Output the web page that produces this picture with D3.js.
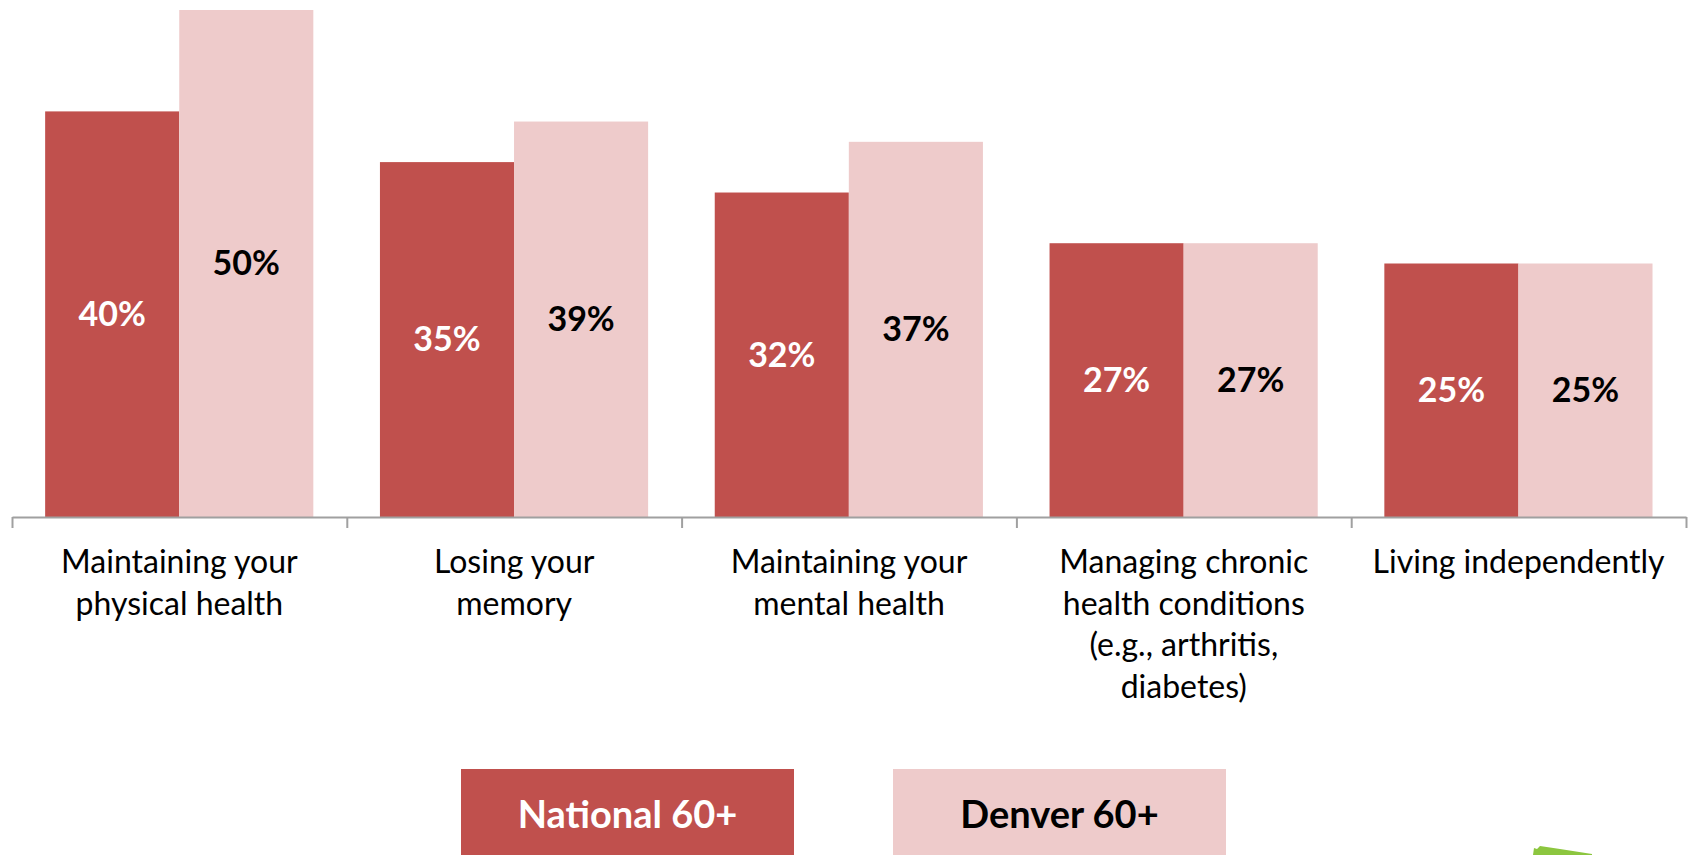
<!DOCTYPE html>
<html>
<head>
<meta charset="utf-8">
<script src="https://cdnjs.cloudflare.com/ajax/libs/d3/7.8.5/d3.min.js"></script>
<style>
  html, body { margin: 0; padding: 0; background: #fff; }
  svg { display: block; }
</style>
</head>
<body>
<div id="chart"></div>
<script>
// data
var categories = [
    "Maintaining your\nphysical health",
    "Losing your\nmemory",
    "Maintaining your\nmental health",
    "Managing chronic\nhealth conditions\n(e.g., arthritis,\ndiabetes)",
    "Living independently"
];
var seriesNames = ["National 60+", "Denver 60+"];
var nationalValues = [40, 35, 32, 27, 25];
var denverValues = [50, 39, 37, 27, 25];
var colors = ["#c0504d", "#eecbcb"];
var labelColors = ["#ffffff", "#000000"];

var width = 1692,
    height = 855;

var svg = d3.select("#chart").append("svg")
    .attr("width", width)
    .attr("height", height);

var rows = categories.map(function (c, i) {
    return { cat: c, values: [nationalValues[i], denverValues[i]] };
});

//==========================================================================================================
// scales
var x0 = d3.scaleBand()
    .domain(categories)
    .range([12, 1686])
    .paddingInner(0)
    .paddingOuter(0);

var x1 = d3.scaleBand()
    .domain([0, 1])
    .range([x0.bandwidth() * 0.099, x0.bandwidth() * 0.9]);

var y = d3.scaleLinear()
    .domain([0, 50])
    .range([517, 10]);

//==========================================================================================================
// bars
var groups = svg.selectAll(".group")
    .data(rows)
    .enter().append("g")
    .attr("class", "group")
    .attr("transform", function (d) { return "translate(" + x0(d.cat) + ",0)"; });

groups.selectAll("rect")
    .data(function (d) { return d.values; })
    .enter().append("rect")
    .attr("x", function (d, i) { return x1(i); })
    .attr("width", x1.bandwidth())
    .attr("y", function (d) { return y(d); })
    .attr("height", function (d) { return y(0) - y(d); })
    .style("fill", function (d, i) { return colors[i]; });

groups.selectAll(".val")
    .data(function (d) { return d.values; })
    .enter().append("text")
    .attr("class", "val")
    .attr("x", function (d, i) { return x1(i) + x1.bandwidth() / 2; })
    .attr("y", function (d) { return (y(d) + y(0)) / 2; })
    .attr("dy", "0.35em")
    .attr("text-anchor", "middle")
    .style("font-family", "Lato, 'Open Sans', sans-serif")
    .style("font-weight", "bold")
    .style("font-size", "34px")
    .style("fill", function (d, i) { return labelColors[i]; })
    .text(function (d) { return d + "%"; });

//==========================================================================================================
// axis - ticks sit on the category boundaries
var edges = d3.scaleLinear()
    .domain([0, categories.length])
    .range(x0.range());

var xAxis = d3.axisBottom(edges)
    .tickValues(d3.range(categories.length + 1))
    .tickSize(11)
    .tickSizeOuter(0)
    .tickFormat("");

var axisG = svg.append("g")
    .attr("transform", "translate(0," + y(0) + ")")
    .call(xAxis);
axisG.selectAll("path, line")
    .style("stroke", "#a0a0a0")
    .style("stroke-width", 2);

// category labels
var catText = svg.selectAll(".cat")
    .data(categories)
    .enter().append("text")
    .attr("class", "cat")
    .attr("x", function (d) { return x0(d) + x0.bandwidth() / 2; })
    .attr("y", 573)
    .attr("text-anchor", "middle")
    .style("font-family", "Lato, 'Open Sans', sans-serif")
    .style("font-size", "32px")
    .style("fill", "#000");

catText.selectAll("tspan")
    .data(function (d) { return d.split("\n"); })
    .enter().append("tspan")
    .attr("x", function () { return d3.select(this.parentNode).attr("x"); })
    .attr("dy", function (d, i) { return i === 0 ? 0 : 41.5; })
    .text(function (d) { return d; });

//==========================================================================================================
// legend boxes
var legendX = [461, 893];
var legend = svg.selectAll(".legend")
    .data(seriesNames)
    .enter().append("g")
    .attr("class", "legend")
    .attr("transform", function (d, i) { return "translate(" + legendX[i] + ",769)"; });

legend.append("rect")
    .attr("width", 333)
    .attr("height", 90)
    .style("fill", function (d, i) { return colors[i]; });

legend.append("text")
    .attr("x", 333 / 2)
    .attr("y", 46)
    .attr("dy", "0.35em")
    .attr("text-anchor", "middle")
    .style("font-family", "Lato, 'Open Sans', sans-serif")
    .style("font-weight", "bold")
    .style("font-size", "38px")
    .style("fill", function (d, i) { return labelColors[i]; })
    .text(function (d) { return d; });

// bit of a green logo cut off at the bottom right
svg.append("path")
    .attr("d", "M1533,855 L1534,848 L1537,849 L1540,846 L1560,849 L1592,854 L1592,855 Z")
    .style("fill", "#8cc63f");
</script>
</body>
</html>
